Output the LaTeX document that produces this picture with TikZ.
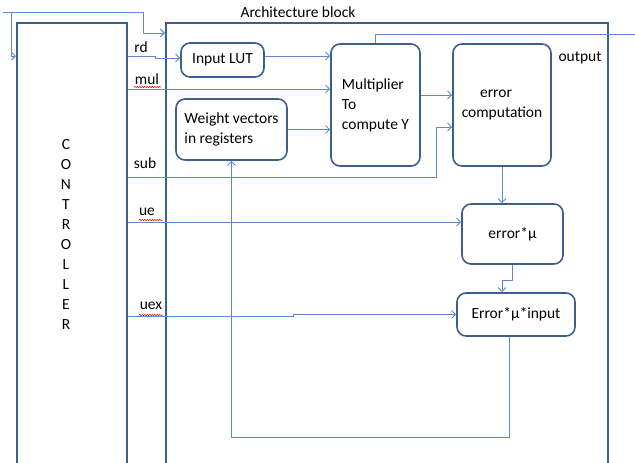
\documentclass[tikz,border=0pt]{standalone}
\usepackage{fontspec}
\setmainfont{Carlito}
\usepackage{tikz}
\usetikzlibrary{arrows.meta,decorations.pathmorphing}
\usetikzlibrary{positioning}
\definecolor{boxblue}{RGB}{60,95,140}
\definecolor{lineblue}{RGB}{95,138,198}
\tikzset{
  blk/.style={draw=boxblue, line width=1.6pt, inner sep=0pt},
  unit/.style={draw=boxblue, line width=1.6pt, rounded corners=9pt, inner sep=0pt, align=left},
  sig/.style={draw=lineblue, line width=0.9pt},
  sigarr/.style={sig, -{Straight Barb[length=4pt,width=8pt]}},
  spell/.style={draw=red, line width=0.5pt, decorate, decoration={snake, amplitude=0.7pt, segment length=2.5pt}}
}

\begin{document}
\begin{tikzpicture}[x=1pt, y=-1pt, every node/.style={font=\fontsize{15.5}{20}\selectfont, text=black}]
  \clip (0,0) rectangle (635,463);

  % Big blocks
  \node[blk, minimum width=110pt, minimum height=480pt, anchor=north west] (ctrl) at (16,22) {};
  \node[blk, minimum width=442pt, minimum height=480pt, anchor=north west] (arch) at (165,22) {};
  \node[align=center] (ctrltext) at (66,234) {C\\O\\N\\T\\R\\O\\L\\L\\E\\R};
  \node (archtitle) at (298,12) {Architecture block};

  % Units
  \node[unit, minimum width=83pt, minimum height=34pt] (lut) at (222.5,60) {Input LUT};
  \node[unit, minimum width=111pt, minimum height=61pt] (wv) at (231.5,129.5) {Weight vectors\\in registers};
  \node[unit, minimum width=89pt, minimum height=122pt] (mult) at (375.5,105) {Multiplier\\To\\compute Y};
  \node[unit, minimum width=98pt, minimum height=122pt, align=center] (err) at (502,105) {error\hspace*{12pt}\\computation};
  \node[unit, minimum width=101pt, minimum height=60pt] (errmu) at (512.5,234) {error*µ};
  \node[unit, minimum width=118pt, minimum height=43pt] (errin) at (516,314.5) {Error*µ*input};
  \node (outlbl) at (580,58) {output};

  % Signal names
  \node (lrd) at (141,47) {rd};
  \node (lmul) at (147,79) {mul};
  \node (lsub) at (145,163) {sub};
  \node (lue) at (147,212) {ue};
  \node (luex) at (151,306) {uex};
  \draw[spell] (134,87) -- (161,87);
  \draw[spell] (139,220) -- (163,220);
  \draw[spell] (139,315) -- (163,315);

  % Feedback from the top
  \coordinate (fbin) at (3,12);
  \coordinate (fbsplit) at (11,12);
  \coordinate (outend) at (640,34);
  \draw[sigarr] (fbin) -- (143,12) |- (arch.west |- 0,33);
  \draw[sigarr] (fbsplit) |- (ctrl.west |- 0,56);
  \draw[sig] (mult.north) |- (outend);

  % Controller lines
  \draw[sigarr] (ctrl.east |- 0,56) -- (155,56) |- ([yshift=2pt]lut.west);
  \draw[sigarr] (ctrl.east |- 0,89) -- (mult.west |- 0,89);
  \draw[sigarr] (ctrl.east |- 0,177) -- (436,177) |- ([yshift=-22pt]err.west);
  \draw[sigarr] (ctrl.east |- 0,222) -- (errmu.west |- 0,222);
  \draw[sigarr] (ctrl.east |- 0,316) -- (293,316) |- (errin.west);

  % Data path
  \draw[sigarr] ([yshift=4pt]lut.east) -- (mult.west |- 0,56);
  \draw[sigarr] (wv.east) -- (mult.west |- wv.east);
  \draw[sigarr] ([yshift=10pt]mult.east) -- ([yshift=10pt]err.west);
  \draw[sigarr] (err.south) -- (err.south |- errmu.north);
  \draw[sigarr] (errmu.south) -- ++(0,16) -| ([xshift=-14pt]errin.north);
  \draw[sigarr] ([xshift=-7pt]errin.south) |- (wv.south |- 0,437) -- (wv.south);

\end{tikzpicture}
\end{document}
